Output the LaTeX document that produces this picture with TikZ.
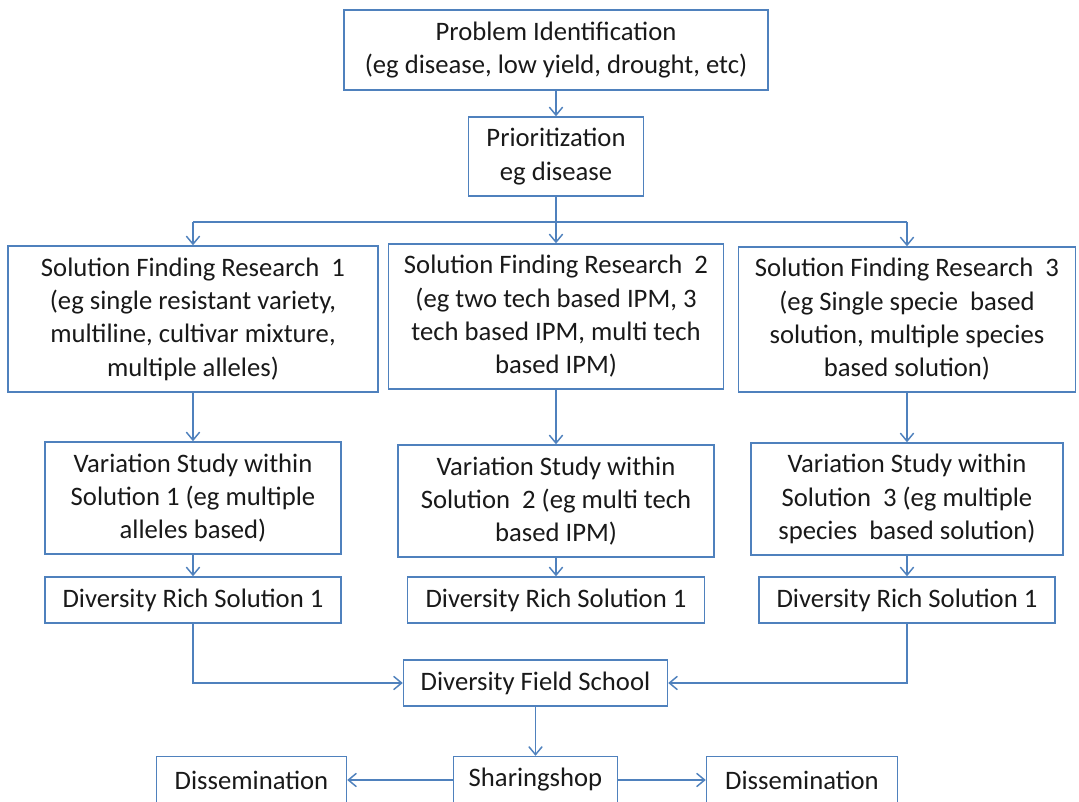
\documentclass[tikz,border=0pt]{standalone}
\usepackage{fontspec}
\setmainfont{Carlito}
\usepackage{tikz}
\usetikzlibrary{arrows.meta, positioning}
\definecolor{flowline}{RGB}{79,129,189}
\definecolor{flowtext}{RGB}{25,25,25}

\begin{document}
\begin{tikzpicture}[x=0.75pt, y=-0.75pt,
    >={Straight Barb[length=6pt, width=10pt]},
    blk/.style={draw=flowline, line width=1.1pt, inner sep=0pt, align=center,
      text=flowtext, font=\fontsize{20}{25}\selectfont},
    sz/.style 2 args={minimum width={#1*0.75pt}, minimum height={#2*0.75pt}},
    link/.style={draw=flowline, line width=1.1pt}]
    \useasboundingbox (0,0) rectangle (1079,802);

    \node[blk, sz={424}{80}] (prob) at (556, 50) {Problem Identification\\(eg disease, low yield, drought, etc)};
    \node[blk, sz={175}{79}] (prio) at (556, 156.5) {Prioritization\\eg disease};

    % three research branches
    \node[blk, sz={370}{146}] (sfr1) at (193, 319) {Solution Finding Research~ 1\\(eg single resistant variety,\\multiline, cultivar mixture,\\multiple alleles)};
    \node[blk, sz={335}{145}] (sfr2) at (556, 316.5) {Solution Finding Research~ 2\\(eg two tech based IPM, 3\\tech based IPM, multi tech\\based IPM)};
    \node[blk, sz={337}{145}] (sfr3) at (907, 319.5) {Solution Finding Research~ 3\\(eg Single specie~ based\\solution, multiple species\\based solution)};

    \node[blk, sz={296}{112}] (var1) at (193, 498) {Variation Study within\\Solution 1 (eg multiple\\alleles based)};
    \node[blk, sz={316}{112}] (var2) at (556, 501) {Variation Study within\\Solution~ 2 (eg multi tech\\based IPM)};
    \node[blk, sz={312}{112}] (var3) at (907, 499) {Variation Study within\\Solution~ 3 (eg multiple\\species~ based solution)};

    \node[blk, sz={296}{46}] (rich1) at (193, 600) {Diversity Rich Solution 1};
    \node[blk, sz={297}{46}] (rich2) at (556, 600) {Diversity Rich Solution 1};
    \node[blk, sz={296}{46}] (rich3) at (907, 600) {Diversity Rich Solution 1};

    \node[blk, sz={264}{46}] (school) at (535.5, 683) {Diversity Field School};
    \node[blk, sz={164}{47}] (share) at (535.5, 780) {Sharingshop};
    \node[blk, sz={190}{47}] (dissL) at (251.5, 780) {Dissemination};
    \node[blk, sz={191}{47}] (dissR) at (802, 780) {Dissemination};

    \coordinate (busL) at (193, 222);
    \coordinate (busR) at (907, 222);

    \draw[link, ->] (prob) -- (prio);
    \draw[link] (prio.south) -- (prio.south |- busL);
    \draw[link] (busL) -- (busR);
    \draw[link, ->] (busL) -- (sfr1.north);
    \draw[link, ->] (prio.south |- busL) -- (sfr2.north);
    \draw[link, ->] (busR) -- (sfr3.north);
    \foreach \i in {1,2,3} {
      \draw[link, ->] (sfr\i) -- (var\i);
      \draw[link, ->] (var\i) -- (rich\i);
    }
    \draw[link, ->] (rich1.south) |- (school.west);
    \draw[link, ->] (rich3.south) |- (school.east);
    \draw[link, ->] (school) -- (share);
    \draw[link, ->] (share) -- (dissL);
    \draw[link, ->] (share) -- (dissR);
\end{tikzpicture}
\end{document}
